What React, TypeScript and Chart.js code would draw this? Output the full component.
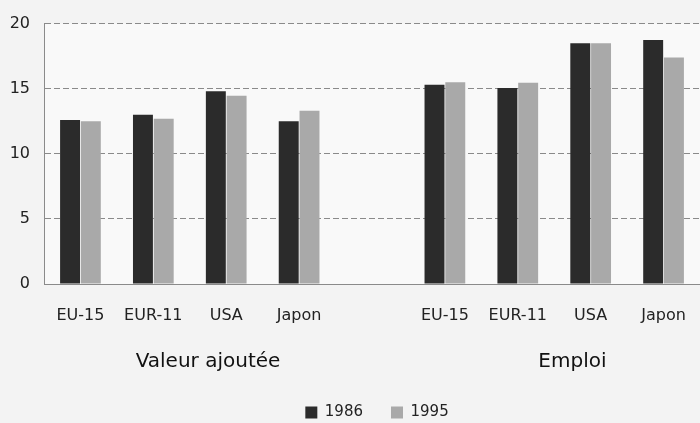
import React, { useEffect, useRef } from "react";
import { Chart, registerables } from "chart.js";

Chart.register(...registerables);

const categories = ["EU-15", "EUR-11", "USA", "Japon", "", "EU-15", "EUR-11", "USA", "Japon"];
const values1986 = [12.6, 13.0, 14.8, 12.5, null, 15.3, 15.05, 18.5, 18.75];
const values1995 = [12.5, 12.7, 14.45, 13.3, null, 15.5, 15.45, 18.5, 17.4];
const seriesLabels = ["1986", "1995"];
const groupLabels = ["Valeur ajoutée", "Emploi"];
const groupStart = [0, 5];
const groupEnd = [3, 8];
const yTicks = [0, 5, 10, 15, 20];

const FONT = "'DejaVu Sans', sans-serif";

const bgPlugin = {
  id: "bg",
  afterLayout(chart: any) {
    if (chart.legend) {
      chart.legend.left += 27;
      chart.legend.right += 27;
    }
  },
  beforeDraw(chart: any) {
    const { ctx, chartArea, width, height } = chart;
    ctx.save();
    ctx.fillStyle = "#f3f3f3";
    ctx.fillRect(0, 0, width, height);
    ctx.fillStyle = "#f9f9f9";
    ctx.fillRect(chartArea.left, chartArea.top, chartArea.right - chartArea.left, chartArea.bottom - chartArea.top);
    ctx.restore();
  },
};

const groupPlugin = {
  id: "groups",
  afterDraw(chart: any) {
    const { ctx, chartArea } = chart;
    const x = chart.scales.x;
    const step = x.getPixelForValue(1) - x.getPixelForValue(0);
    ctx.save();
    ctx.font = `20px ${FONT}`;
    ctx.fillStyle = "#111";
    ctx.textAlign = "center";
    ctx.textBaseline = "middle";
    groupLabels.forEach((g, i) => {
      const cx = (x.getPixelForValue(groupStart[i]) + x.getPixelForValue(groupEnd[i])) / 2 + step / 4;
      ctx.fillText(g, cx, chartArea.bottom + 78);
    });
    ctx.restore();
  },
};

export default function App() {
  const ref = useRef<HTMLCanvasElement>(null);
  useEffect(() => {
    if (!ref.current) return;
    const chart = new Chart(ref.current, {
      type: "bar",
      data: {
        labels: categories,
        datasets: [
          {
            label: seriesLabels[0],
            data: values1986,
            backgroundColor: "#2b2b2b",
            categoryPercentage: 0.57,
            barPercentage: 0.96,
          },
          {
            label: seriesLabels[1],
            data: values1995,
            backgroundColor: "#a9a9a9",
            categoryPercentage: 0.57,
            barPercentage: 0.96,
          },
        ],
      },
      options: {
        animation: false,
        responsive: false,
        maintainAspectRatio: false,
        layout: { padding: { top: 20, left: 0, right: 0, bottom: -7 } },
        plugins: {
          tooltip: { enabled: false },
          legend: {
            position: "bottom",
            labels: {
              boxWidth: 12,
              boxHeight: 12,
              padding: 28,
              color: "#222",
              font: { family: FONT, size: 15 },
            },
          },
        },
        scales: {
          x: {
            grid: { display: false, drawTicks: false },
            border: { display: true, color: "#8a8a8a", dash: [6, 3] },
            ticks: { color: "#222", padding: 22, font: { family: FONT, size: 16 } },
            afterFit: (s: any) => {
              s.height = 93;
              s.paddingRight = 0;
              s.paddingLeft = 0;
            },
          },
          y: {
            min: 0,
            max: 20,
            afterBuildTicks: (s: any) => {
              s.ticks = yTicks.map((v) => ({ value: v }));
            },
            grid: { color: "#8a8a8a", drawTicks: false },
            border: { display: true, color: "#8a8a8a", dash: [6, 3] },
            ticks: { color: "#222", padding: 14, font: { family: FONT, size: 16 } },
            afterFit: (s: any) => {
              s.width = 44;
            },
          },
        },
      },
      plugins: [bgPlugin, groupPlugin],
    });
    return () => chart.destroy();
  }, []);
  return (
    <div style={{ position: "fixed", left: 0, top: 0, width: 700, height: 423 }}>
      <canvas ref={ref} width={700} height={423} style={{ width: 700, height: 423, display: "block" }} />
    </div>
  );
}
